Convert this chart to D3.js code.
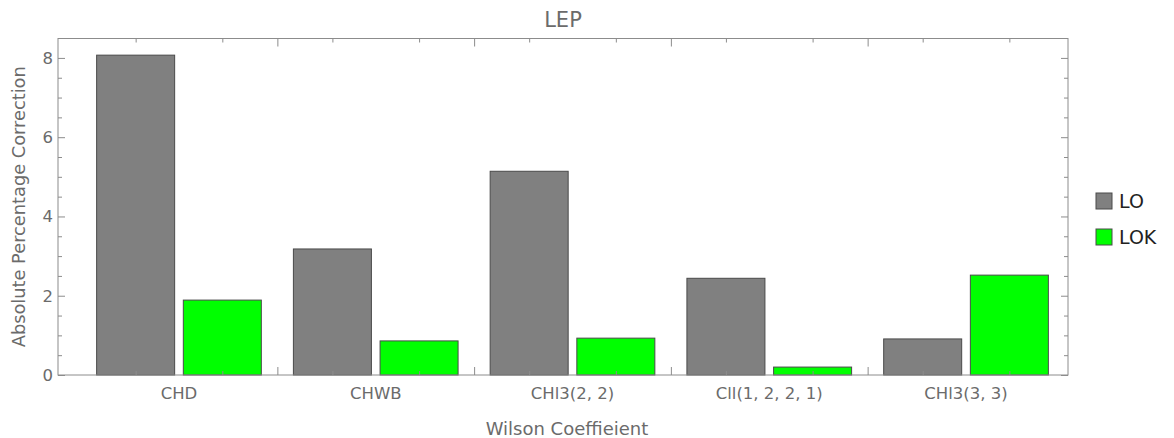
<!DOCTYPE html>
<html>
<head>
<meta charset="utf-8">
<script src="https://cdn.jsdelivr.net/npm/d3@7"></script>
<style>
  body { margin: 0; background: #fff; }
  text { font-family: "DejaVu Sans", sans-serif; }
</style>
</head>
<body>
<div id="chart"></div>
<script>
//Datos
const categorias = ['CHD', 'CHWB', 'CHl3(2, 2)', 'Cll(1, 2, 2, 1)', 'CHl3(3, 3)'];
const series = ['LO', 'LOK'];
const valoresLO = [8.07, 3.18, 5.14, 2.44, 0.91];
const valoresLOK = [1.89, 0.86, 0.93, 0.20, 2.52];
const ticksY = [0, 2, 4, 6, 8];

//Colores
const COLOR_LO = '#808080',
COLOR_LOK = '#00ff00',
COLOR_AXIS = '#8c8c8c',
COLOR_TEXT = '#6b6b6b';

let data = categorias.map(function(c, i) { return { cat: c, LO: valoresLO[i], LOK: valoresLOK[i] }; });

let W = 1174, H = 438;
let frame = { left: 58, right: 1068, top: 38.5, bottom: 375 };

let svg = d3.select('#chart').append('svg')
    .attr('width', W)
    .attr('height', H);

let y = d3.scaleLinear()
    .domain([0, 8.49])
    .range([frame.bottom, frame.top]);

let x = d3.scaleBand()
    .domain(categorias)
    .range([80.6, 1064.4])
    .paddingInner(0.163)
    .paddingOuter(0.0815);

let xSub = d3.scaleBand()
    .domain(series)
    .range([0, x.bandwidth()])
    .paddingInner(0.1);

let color = d3.scaleOrdinal().domain(series).range([COLOR_LO, COLOR_LOK]);

//Barras
svg.append('g')
    .selectAll('g')
    .data(data)
    .enter()
    .append('g')
    .attr('transform', function(d) { return 'translate(' + x(d.cat) + ',0)'; })
    .selectAll('rect')
    .data(function(d) { return series.map(function(k) { return { key: k, value: d[k] }; }); })
    .enter()
    .append('rect')
    .attr('x', function(d) { return xSub(d.key); })
    .attr('width', xSub.bandwidth())
    .attr('y', function(d) { return y(d.value); })
    .attr('height', function(d) { return y(0) - y(d.value); })
    .attr('fill', function(d) { return color(d.key); })
    .attr('stroke', '#4a4a4a')
    .attr('stroke-width', 1);

//Ejes Y (izquierda con etiquetas, derecha sin)
let minorY = d3.range(0, 8.5, 0.5).filter(function(v) { return v % 2 !== 0; });

let yLeft = svg.append('g').attr('transform', 'translate(' + frame.left + ',0)');
yLeft.call(d3.axisRight(y).tickValues(ticksY).tickSize(7).tickFormat(''));
yLeft.append('g').call(d3.axisRight(y).tickValues(minorY).tickSize(4).tickFormat(''));
ticksY.forEach(function(v) {
    yLeft.append('text')
        .attr('x', -5).attr('y', y(v)).attr('dy', '0.36em')
        .attr('text-anchor', 'end')
        .attr('font-size', 16.5)
        .attr('fill', COLOR_TEXT)
        .text(v);
});

let yRight = svg.append('g').attr('transform', 'translate(' + frame.right + ',0)');
yRight.call(d3.axisLeft(y).tickValues(ticksY).tickSize(7).tickFormat(''));
yRight.append('g').call(d3.axisLeft(y).tickValues(minorY).tickSize(4).tickFormat(''));

//Ejes X (abajo y arriba)
let centros = [];
let separadores = [];
categorias.forEach(function(c, i) {
    series.forEach(function(s) { centros.push(x(c) + xSub(s) + xSub.bandwidth() / 2); });
    if (i > 0) separadores.push(x(c) - x.step() * x.paddingInner() / 2);
});
let xPos = d3.scaleIdentity();

let xBottom = svg.append('g').attr('transform', 'translate(0,' + frame.bottom + ')');
xBottom.call(d3.axisTop(xPos).tickValues(separadores).tickSize(8).tickFormat(''));
xBottom.append('g').call(d3.axisTop(xPos).tickValues(centros).tickSize(4).tickFormat(''));

let xTop = svg.append('g').attr('transform', 'translate(0,' + frame.top + ')');
xTop.call(d3.axisBottom(xPos).tickValues(separadores).tickSize(8).tickFormat(''));
xTop.append('g').call(d3.axisBottom(xPos).tickValues(centros).tickSize(4).tickFormat(''));

svg.selectAll('.domain').remove();
svg.selectAll('.tick line').attr('stroke', COLOR_AXIS);

//Marco
svg.append('rect')
    .attr('x', frame.left).attr('y', frame.top)
    .attr('width', frame.right - frame.left)
    .attr('height', frame.bottom - frame.top)
    .attr('fill', 'none')
    .attr('stroke', COLOR_AXIS)
    .attr('stroke-width', 1);

//Etiquetas de categorías
svg.append('g')
    .selectAll('text')
    .data(categorias)
    .enter()
    .append('text')
    .attr('x', function(d) { return x(d) + x.bandwidth() / 2; })
    .attr('y', 399)
    .attr('text-anchor', 'middle')
    .attr('font-size', 16.5)
    .attr('fill', COLOR_TEXT)
    .text(function(d) { return d; });

//Títulos
svg.append('text')
    .attr('x', 563).attr('y', 27)
    .attr('text-anchor', 'middle')
    .attr('font-size', 21)
    .attr('fill', COLOR_TEXT)
    .text('LEP');

svg.append('text')
    .attr('x', 567).attr('y', 435)
    .attr('text-anchor', 'middle')
    .attr('font-size', 18)
    .attr('fill', COLOR_TEXT)
    .text('Wilson Coeffieient');

svg.append('text')
    .attr('transform', 'translate(25,' + ((frame.top + frame.bottom) / 2) + ') rotate(-90)')
    .attr('text-anchor', 'middle')
    .attr('font-size', 17.8)
    .attr('fill', COLOR_TEXT)
    .text('Absolute Percentage Correction');

//Leyenda
let legend = svg.append('g')
    .selectAll('g')
    .data(series)
    .enter()
    .append('g')
    .attr('transform', function(d, i) { return 'translate(1096,' + (193 + i * 36) + ')'; });

legend.append('rect')
    .attr('width', 16).attr('height', 16)
    .attr('fill', function(d) { return color(d); })
    .attr('stroke', '#4a4a4a');

legend.append('text')
    .attr('x', 23).attr('y', 8).attr('dy', '0.36em')
    .attr('font-size', 19)
    .attr('fill', '#222')
    .text(function(d) { return d; });
</script>
</body>
</html>
